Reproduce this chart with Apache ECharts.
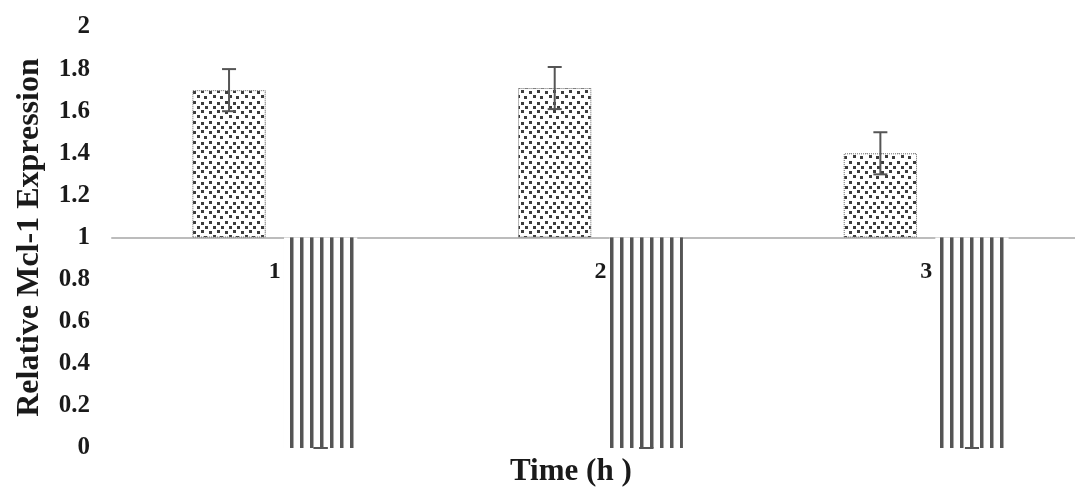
<!DOCTYPE html>
<html>
<head>
<meta charset="utf-8">
<title>Relative Mcl-1 Expression</title>
<script src="https://cdn.jsdelivr.net/npm/echarts@6.0.0/dist/echarts.min.js"></script>
<style>
  html, body { margin: 0; padding: 0; background: #fff; overflow: hidden; }
  /* the original plot area runs past the right edge of the figure */
  #chart { width: 1089px; height: 489px; }
</style>
</head>
<body>
<div id="chart"></div>
<script>
  // data
  var categories = ['1', '2', '3'];
  var baseline = 1;
  var dottedValues = [1.70, 1.71, 1.40];
  var dottedErr = [0.10, 0.10, 0.10];
  var stripeValues = [0, 0, 0];
  var stripeErr = [0, 0, 0];
  var yTicks = { min: 0, max: 2, interval: 0.2 };

  var serif = '"Liberation Serif", "Times New Roman", serif';
  var ink = '#555';
  var barWidthPct = 0.225;
  var barGapPct = 0.25;

  // fill patterns
  function stripeTile() {
    var c = document.createElement('canvas');
    c.width = 10; c.height = 10;
    var g = c.getContext('2d');
    g.fillStyle = '#fff';
    g.fillRect(0, 0, 10, 10);
    g.fillStyle = ink;
    g.fillRect(0, 0, 3.5, 10);
    return c;
  }
  function dotTile() {
    var c = document.createElement('canvas');
    c.width = 16; c.height = 20;
    var g = c.getContext('2d');
    g.fillStyle = '#fff';
    g.fillRect(0, 0, 16, 20);
    g.fillStyle = '#3c3c3c';
    var dots = [[1, 1], [9, 2], [5, 6], [13, 6], [1, 11], [9, 10], [5, 15], [12, 16]];
    dots.forEach(function (d) { g.fillRect(d[0], d[1], 3, 3); });
    return c;
  }

  // bars hang from the baseline: invisible base + visible part in one stack
  function baseOf(vals) { return vals.map(function (v) { return Math.min(v, baseline); }); }
  function spanOf(vals) { return vals.map(function (v) { return Math.abs(v - baseline); }); }

  var chart = echarts.init(document.getElementById('chart'));
  var gridTop = 27, gridBottom = 41;
  var plotH = 489 - gridTop - gridBottom;

  function errorSeries(vals, errs, side) {
    return {
      type: 'custom',
      z: 5,
      silent: true,
      data: vals.map(function (v, i) { return [i, v, errs[i]]; }),
      encode: { x: 0, y: 1 },
      renderItem: function (params, api) {
        var i = api.value(0), v = api.value(1), e = api.value(2);
        var band = api.size([1, 0])[0];
        var bw = band * barWidthPct;
        var dx = side * (bw + bw * barGapPct) / 2;
        var hi = api.coord([i, v + e]);
        var lo = api.coord([i, v - e]);
        var x = hi[0] + dx, cap = 7;
        var st = { stroke: ink, lineWidth: 2 };
        return {
          type: 'group',
          children: [
            { type: 'line', shape: { x1: x, y1: hi[1], x2: x, y2: lo[1] }, style: st },
            { type: 'line', shape: { x1: x - cap, y1: hi[1], x2: x + cap, y2: hi[1] }, style: st },
            { type: 'line', shape: { x1: x - cap, y1: lo[1], x2: x + cap, y2: lo[1] }, style: st }
          ]
        };
      }
    };
  }

  chart.setOption({
    animation: false,
    grid: { left: 112, right: 0, top: gridTop, bottom: gridBottom },
    xAxis: {
      type: 'category',
      data: categories,
      offset: -plotH * (baseline - yTicks.min) / (yTicks.max - yTicks.min),
      axisLine: { show: true, lineStyle: { color: '#bcbcbc', width: 2 } },
      axisTick: { show: false },
      axisLabel: { margin: 22, fontFamily: serif, fontWeight: 'bold', fontSize: 24, color: '#1a1a1a' }
    },
    yAxis: {
      type: 'value',
      min: yTicks.min,
      max: yTicks.max,
      interval: yTicks.interval,
      name: 'Relative Mcl-1 Expression',
      nameLocation: 'middle',
      nameGap: 66,
      nameTextStyle: { fontFamily: serif, fontWeight: 'bold', fontSize: 32, color: '#1a1a1a' },
      axisLine: { show: false },
      axisTick: { show: false },
      splitLine: { show: false },
      axisLabel: { margin: 22, fontFamily: serif, fontWeight: 'bold', fontSize: 25, color: '#1a1a1a' }
    },
    graphic: [{
      type: 'text',
      left: 510,
      top: 456,
      style: { text: 'Time (h )', font: 'bold 31px ' + serif, fill: '#1a1a1a' }
    }],
    series: [
      {
        type: 'bar', stack: 'dotted', silent: true,
        barWidth: (barWidthPct * 100) + '%',
        itemStyle: { color: 'transparent' },
        data: baseOf(dottedValues)
      },
      {
        type: 'bar', stack: 'dotted',
        barWidth: (barWidthPct * 100) + '%',
        itemStyle: { color: { image: dotTile(), repeat: 'repeat' }, borderColor: '#666', borderWidth: 1, borderType: 'dotted' },
        data: spanOf(dottedValues)
      },
      {
        type: 'bar', stack: 'stripe', silent: true,
        barWidth: (barWidthPct * 100) + '%',
        itemStyle: { color: 'transparent' },
        data: baseOf(stripeValues)
      },
      {
        type: 'bar', stack: 'stripe',
        barWidth: (barWidthPct * 100) + '%',
        barGap: (barGapPct * 100) + '%',
        itemStyle: { color: { image: stripeTile(), repeat: 'repeat' } },
        data: spanOf(stripeValues)
      },
      errorSeries(dottedValues, dottedErr, -1),
      errorSeries(stripeValues, stripeErr, 1)
    ]
  });
</script>
</body>
</html>
